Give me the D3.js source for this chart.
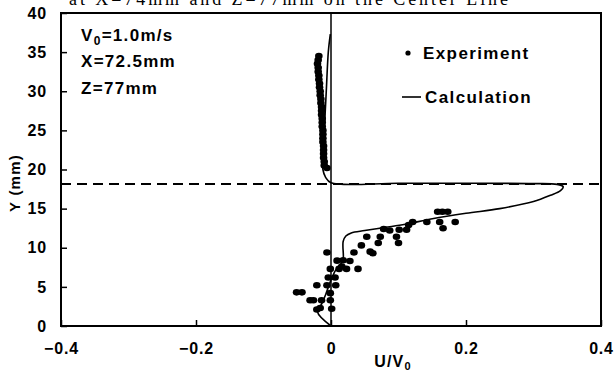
<!DOCTYPE html>
<html>
<head>
<meta charset="utf-8">
<script src="https://cdn.jsdelivr.net/npm/d3@7"></script>
<style>
  html, body { margin: 0; padding: 0; background: #fff; }
  svg { display: block; }
  text { font-family: "Liberation Sans", Arial, sans-serif; font-weight: bold; fill: #000; }
</style>
</head>
<body>
<svg id="chart" width="614" height="372"></svg>
<script>
// Measured velocity ratio U/V0 (x) at height Y in mm (y) — upper recirculation zone
const expUpperU = [-0.018, -0.019, -0.020, -0.019, -0.019, -0.018, -0.018, -0.017, -0.017, -0.016,
                   -0.016, -0.015, -0.015, -0.014, -0.014, -0.014, -0.013, -0.013, -0.013, -0.012,
                   -0.012, -0.012, -0.012, -0.011, -0.011, -0.011, -0.011, -0.010, -0.010, -0.006];
const expUpperY = [34.5, 34.0, 33.5, 33.0, 32.5, 32.0, 31.5, 31.0, 30.5, 30.0,
                   29.5, 29.0, 28.5, 28.0, 27.5, 27.0, 26.5, 26.0, 25.5, 25.0,
                   24.5, 24.0, 23.5, 23.0, 22.5, 22.0, 21.5, 21.0, 20.5, 20.2];

// Measured velocity ratio in the lower jet region
const expLowerU = [-0.051, -0.043, -0.031, -0.026, -0.014, -0.021, -0.016, -0.021, -0.006, 0.007,
                   -0.004, 0.006, -0.001, -0.001, 0.001, -0.001, 0.012, 0.023, 0.040, 0.009,
                   0.028, -0.006, 0.034, 0.045, 0.053, 0.058, 0.070, 0.073, 0.078, 0.097,
                   0.100, 0.087, 0.101, 0.112, 0.115, 0.121, 0.142, 0.161, 0.184, 0.158,
                   0.165, 0.173, 0.166, 0.016, 0.018, 0.062];
const expLowerY = [4.3, 4.3, 3.3, 3.3, 3.3, 2.1, 2.3, 5.2, 5.2, 5.2,
                   6.2, 6.2, 4.2, 3.3, 2.2, 7.3, 7.3, 7.3, 7.3, 8.35,
                   8.3, 9.4, 9.4, 10.3, 11.4, 9.5, 10.6, 11.4, 12.4, 11.4,
                   10.6, 12.2, 12.3, 12.3, 12.9, 13.3, 13.3, 13.3, 13.3, 14.6,
                   14.6, 14.6, 12.5, 7.6, 8.4, 9.3];

// Calculated profile, traced from the floor up through the jet and the upper zone
const calcU = [0.000, -0.020, -0.014, -0.008, -0.003, 0.002, 0.008, 0.015, 0.018, 0.018,
               0.022, 0.030, 0.050, 0.080, 0.110, 0.150, 0.200, 0.250, 0.300, 0.325,
               0.340, 0.344, 0.335, 0.300, 0.200, 0.100, 0.000, -0.008, -0.012, -0.012,
               -0.010, -0.007, -0.004, -0.001];
const calcY = [0.0, 1.8, 2.8, 4.0, 5.2, 6.3, 7.3, 8.0, 8.5, 10.8,
               11.5, 11.9, 12.2, 12.6, 13.0, 13.7, 14.4, 15.0, 15.9, 16.7,
               17.3, 17.8, 18.1, 18.2, 18.25, 18.25, 18.3, 19.0, 20.0, 22.0,
               25.0, 30.0, 35.0, 37.3];

// Axis ticks and reference lines
const xTicks = [-0.4, -0.2, 0, 0.2, 0.4];
const xTickLabels = ["\u22120.4", "\u22120.2", "0", "0.2", "0.4"];
const yTicks = [0, 5, 10, 15, 20, 25, 30, 35, 40];
const jetTopY = 18.15;
const conditionLines = ["V", "X=72.5mm", "Z=77mm"];

const svg = d3.select("#chart");
const x = d3.scaleLinear().domain([-0.4, 0.4]).range([61, 601]);
const y = d3.scaleLinear().domain([0, 40]).range([326, 13]);

// Caption line running off the top edge
svg.append("text")
  .attr("x", 69).attr("y", 5)
  .style("font-family", "'Liberation Serif', 'Times New Roman', serif")
  .style("font-weight", "normal")
  .style("font-size", "18px")
  .attr("textLength", 439)
  .text("at X=74mm and Z=77mm on the Center Line");

// Axes with inward ticks
const yAxis = d3.axisLeft(y).tickValues(yTicks).tickSizeInner(-6).tickSizeOuter(0).tickPadding(14);
const gy = svg.append("g").attr("transform", `translate(${x(-0.4)},0)`).call(yAxis);
const xAxis = d3.axisBottom(x).tickValues(xTicks).tickSizeInner(-6).tickSizeOuter(0).tickPadding(17)
  .tickFormat((d, i) => xTickLabels[i]);
const gx = svg.append("g").attr("transform", `translate(0,${y(0)})`).call(xAxis);
[gx, gy].forEach(g => {
  g.select(".domain").remove();
  g.selectAll(".tick line").attr("stroke", "#000").attr("stroke-width", 1.5);
  g.selectAll(".tick text")
    .style("font-family", "'Liberation Sans', Arial, sans-serif")
    .style("font-weight", "bold")
    .style("font-size", "16px")
    .style("letter-spacing", "0.8px")
    .attr("fill", "#000");
});

// Plot frame
svg.append("rect")
  .attr("x", x(-0.4)).attr("y", y(40))
  .attr("width", x(0.4) - x(-0.4)).attr("height", y(0) - y(40))
  .attr("fill", "none").attr("stroke", "#000").attr("stroke-width", 2);

// Zero-velocity line
svg.append("line")
  .attr("x1", x(0)).attr("x2", x(0)).attr("y1", y(0)).attr("y2", y(40))
  .attr("stroke", "#000").attr("stroke-width", 1.5);

// Jet upper boundary
svg.append("line")
  .attr("x1", x(-0.4)).attr("x2", x(0.4)).attr("y1", y(jetTopY)).attr("y2", y(jetTopY))
  .attr("stroke", "#000").attr("stroke-width", 2).attr("stroke-dasharray", "10,6");

// Calculation curve
const calcPts = calcU.map((u, i) => [u, calcY[i]]);
svg.append("path")
  .datum(calcPts)
  .attr("fill", "none").attr("stroke", "#000").attr("stroke-width", 1.6)
  .attr("d", d3.line().x(d => x(d[0])).y(d => y(d[1])).curve(d3.curveCatmullRom.alpha(0.5)));

// Experiment points
const expPts = expUpperU.map((u, i) => [u, expUpperY[i]])
  .concat(expLowerU.map((u, i) => [u, expLowerY[i]]));
svg.append("g").selectAll("ellipse").data(expPts).join("ellipse")
  .attr("cx", d => x(d[0])).attr("cy", d => y(d[1]))
  .attr("rx", 3.8).attr("ry", 3.3).attr("fill", "#000");

// Flow conditions
const cond = svg.append("g").style("font-size", "17px").style("letter-spacing", "1.3px");
const t0 = cond.append("text").attr("x", 81).attr("y", 40.5);
t0.append("tspan").text(conditionLines[0]);
t0.append("tspan").attr("dy", 4).style("font-size", "12px").text("0");
t0.append("tspan").attr("dy", -4).text("=1.0m/s");
cond.append("text").attr("x", 81).attr("y", 66.7).text(conditionLines[1]);
cond.append("text").attr("x", 81).attr("y", 93.5).text(conditionLines[2]);

// Legend
const legend = svg.append("g").style("font-size", "17px").style("letter-spacing", "1.4px");
legend.append("circle").attr("cx", 408).attr("cy", 53).attr("r", 2.6).attr("fill", "#000");
legend.append("text").attr("x", 423).attr("y", 59).text("Experiment");
legend.append("line").attr("x1", 402).attr("x2", 421).attr("y1", 97).attr("y2", 97)
  .attr("stroke", "#000").attr("stroke-width", 1.6);
legend.append("text").attr("x", 425).attr("y", 103).text("Calculation");

// Axis titles
const xt = svg.append("text").attr("x", 393).attr("y", 367)
  .attr("text-anchor", "middle").style("font-size", "16px").style("letter-spacing", "1.2px");
xt.append("tspan").text("U/V");
xt.append("tspan").attr("dy", 3).style("font-size", "11px").text("0");

svg.append("text")
  .attr("transform", "translate(20,183) rotate(-90)")
  .attr("text-anchor", "middle").style("font-size", "15px").style("letter-spacing", "1.2px")
  .text("Y (mm)");
</script>
</body>
</html>
